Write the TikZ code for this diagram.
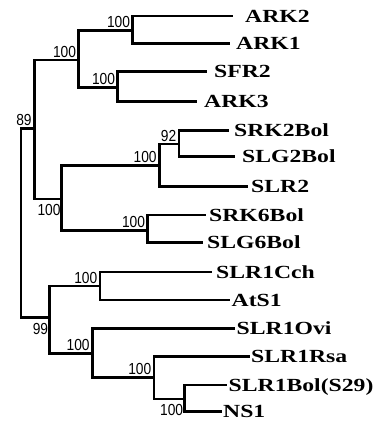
\documentclass[tikz,border=0pt]{standalone}
\usepackage{fontspec}
\setmainfont{Liberation Serif}
\newfontfamily\numfont{Liberation Sans}
\usepackage{tikz}

\newcommand{\taxon}[1]{\scalebox{1.28}[1]{#1}}
\newcommand{\boot}[1]{\scalebox{0.86}[1]{#1}}

\tikzset{
  br/.style={line width=2.7pt},
  leaf/.style={anchor=west, inner xsep=#1, inner ysep=0pt, text height=12.2pt, text depth=0pt,
    font=\fontsize{18.5}{20}\selectfont\bfseries},
  leaf/.default=2pt,
  bs/.style={inner sep=2.5pt, font=\numfont\fontsize{16}{16}\selectfont},
  bsup/.style={label={[bs]above left:\boot{#1}}},
  bsdown/.style={label={[bs, xshift=1.5pt, yshift=-3pt]below left:\boot{#1}}},
}

\begin{document}
\begin{tikzpicture}[x=1pt, y=-1pt]
  \useasboundingbox (0,0) rectangle (378,424);

  % Nodos internos
  \coordinate (root) at (21,223);
  \coordinate[bsup=89] (n4) at (34.3,128.3);
  \coordinate[bsup=100] (n2) at (78.7,60);
  \coordinate[bsup=100] (n1) at (132.7,30.5);
  \coordinate[bsup=100] (n3) at (117.7,87.3);
  \coordinate[bsdown=100] (n7) at (61.7,199);
  \coordinate[bsup=100] (n6) at (159.3,165.7);
  \coordinate[bsup=92] (n5) at (179,144);
  \coordinate[bsup=100] (n8) at (147.7,230.7);
  \coordinate[bsdown=99] (n10) at (49.3,317.3);
  \coordinate[bsup=100] (n9) at (100,286);
  \coordinate[bsup=100] (n11) at (92.3,353.3);
  \coordinate[bsup=100] (n12) at (154,377.7);
  \coordinate[bsdown=100] (n13) at (184.3,399);

  % Hojas
  \node[leaf=12pt] (ark2) at (233,16) {\taxon{ARK2}};
  \node[leaf=6pt] (ark1) at (230,43.3) {\taxon{ARK1}};
  \node[leaf=7pt] (sfr2) at (207,71.7) {\taxon{SFR2}};
  \node[leaf=7pt] (ark3) at (197,101.7) {\taxon{ARK3}};
  \node[leaf=5pt] (srk2) at (229,130.7) {\taxon{SRK2Bol}};
  \node[leaf=7pt] (slg2) at (235,156.7) {\taxon{SLG2Bol}};
  \node[leaf=3pt] (slr2) at (248,186.7) {\taxon{SLR2}};
  \node[leaf=3pt] (srk6) at (206,215) {\taxon{SRK6Bol}};
  \node[leaf=4pt] (slg6) at (203,242.3) {\taxon{SLG6Bol}};
  \node[leaf=4pt] (cch) at (212,272) {\taxon{SLR1Cch}};
  \node[leaf=1.5pt] (ats1) at (230,300) {\taxon{AtS1}};
  \node[leaf=1.5pt] (ovi) at (235,328.5) {\taxon{SLR1Ovi}};
  \node[leaf=1pt] (rsa) at (250,356.5) {\taxon{SLR1Rsa}};
  \node[leaf=1.5pt] (bol) at (227,385) {\taxon{SLR1Bol(S29)}};
  \node[leaf=1pt] (ns1) at (222,411.7) {\taxon{NS1}};

  % Ramas
  \draw[br] (root) |- (n4);
  \draw[br] (root) |- (n10);
  \draw[br] (n4) |- (n2);
  \draw[br] (n4) |- (n7);
  \draw[br] (n2) |- (n1);
  \draw[br] (n2) |- (n3);
  \draw[br] (n1) |- (ark2.west);
  \draw[br] (n1) |- (ark1.west);
  \draw[br] (n3) |- (sfr2.west);
  \draw[br] (n3) |- (ark3.west);
  \draw[br] (n7) |- (n6);
  \draw[br] (n7) |- (n8);
  \draw[br] (n6) |- (n5);
  \draw[br] (n6) |- (slr2.west);
  \draw[br] (n5) |- (srk2.west);
  \draw[br] (n5) |- (slg2.west);
  \draw[br] (n8) |- (srk6.west);
  \draw[br] (n8) |- (slg6.west);
  \draw[br] (n10) |- (n9);
  \draw[br] (n10) |- (n11);
  \draw[br] (n9) |- (cch.west);
  \draw[br] (n9) |- (ats1.west);
  \draw[br] (n11) |- (ovi.west);
  \draw[br] (n11) |- (n12);
  \draw[br] (n12) |- (rsa.west);
  \draw[br] (n12) |- (n13);
  \draw[br] (n13) |- (bol.west);
  \draw[br] (n13) |- (ns1.west);
\end{tikzpicture}
\end{document}
